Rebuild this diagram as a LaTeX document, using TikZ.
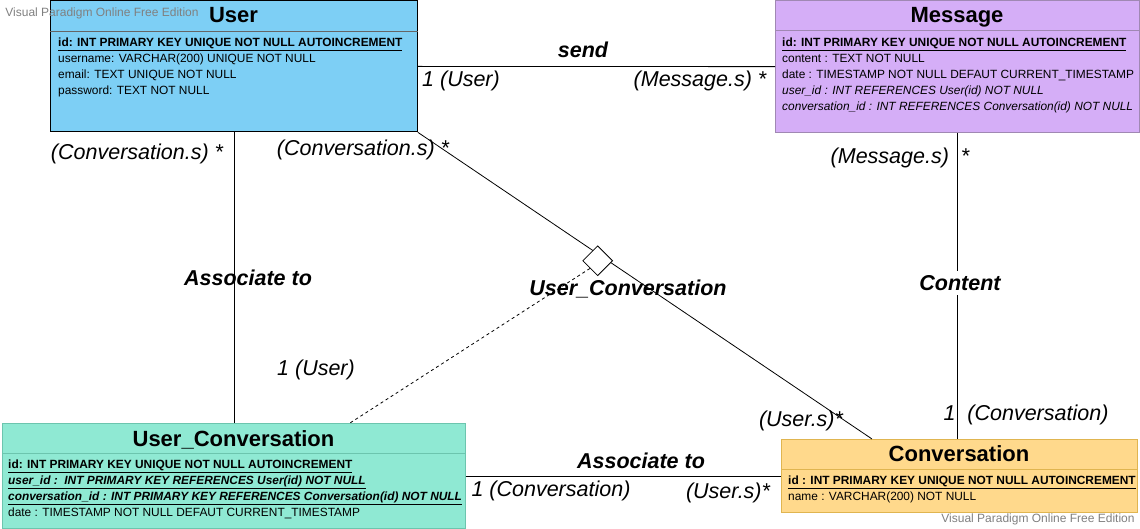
\documentclass[tikz,border=0pt]{standalone}
\usepackage{fontspec}
\setmainfont{Liberation Sans}
\usetikzlibrary{shapes.geometric}
\definecolor{usercol}{HTML}{7DCFF5}
\definecolor{msgcol}{HTML}{D5AEF7}
\definecolor{msgline}{HTML}{A088B3}
\definecolor{ucol}{HTML}{8FE9D3}
\definecolor{uline}{HTML}{6CC5AE}
\definecolor{convcol}{HTML}{FFD98C}
\definecolor{convline}{HTML}{E0B550}
\tikzset{>=latex,
  entity/.style={draw, rectangle, anchor=north west, inner sep=0pt, line width=0.8pt},
  divider/.style={line width=1pt},
  title/.style={font=\fontsize{22}{26}\selectfont\bfseries, anchor=base},
  attrs/.style={font=\fontsize{11.9}{16}\selectfont, anchor=north west, align=left, inner sep=0pt},
  card/.style={font=\fontsize{21.5}{25}\selectfont\itshape, inner sep=0pt, yshift=-2pt},
  rel/.style={font=\fontsize{21.5}{25}\selectfont\bfseries\itshape, inner sep=0pt},
  conn/.style={line width=0.8pt},
  wmark/.style={font=\fontsize{12}{14}\selectfont, text=black!50, inner sep=0pt}
}
\newcommand{\pk}[1]{\underline{\textbf{#1}}}
\begin{document}
\begin{tikzpicture}[x=1pt,y=-1pt]
  \useasboundingbox (0,0) rectangle (1140,529);
  % tables
  \node[entity, fill=usercol, minimum width=367pt, minimum height=131pt] (user) at (50,0.5) {};
  \node[entity, fill=msgcol, draw=msgline, minimum width=364pt, minimum height=131.5pt] (msg) at (775,0.5) {};
  \node[entity, fill=ucol, draw=uline, minimum width=463pt, minimum height=105pt] (uconv) at (2,423) {};
  \node[entity, fill=convcol, draw=convline, minimum width=356pt, minimum height=73pt] (conv) at (781,439) {};
  \draw[divider, draw=black!60] ([yshift=-31pt]user.north west) -- ([yshift=-31pt]user.north east);
  \draw[divider, draw=msgline] ([yshift=-30pt]msg.north west) -- ([yshift=-30pt]msg.north east);
  \draw[divider, draw=uline] ([yshift=-30pt]uconv.north west) -- ([yshift=-30pt]uconv.north east);
  \draw[divider, draw=convline] ([yshift=-30pt]conv.north west) -- ([yshift=-30pt]conv.north east);

  \node[title] (usertitle) at (233.5,23) {User};
  \node[title] (msgtitle) at (957,23) {Message};
  \node[title] (uconvtitle) at (233.5,446) {User\_Conversation};
  \node[title] (convtitle) at (959,461) {Conversation};

  \node[attrs] (userattrs) at (58,37.5) {\pk{id: INT PRIMARY KEY UNIQUE NOT NULL AUTOINCREMENT}\\
    username: VARCHAR(200) UNIQUE NOT NULL\\
    email: TEXT UNIQUE NOT NULL\\
    password: TEXT NOT NULL};
  \node[attrs] (msgattrs) at (782,37.5) {\pk{id: INT PRIMARY KEY UNIQUE NOT NULL AUTOINCREMENT}\\
    content : TEXT NOT NULL\\
    date : TIMESTAMP NOT NULL DEFAUT CURRENT\_TIMESTAMP\\
    \textit{user\_id : INT REFERENCES User(id) NOT NULL}\\
    \textit{conversation\_id : INT REFERENCES Conversation(id) NOT NULL}};
  \node[attrs] (uconvattrs) at (8,459.5) {\pk{id: INT PRIMARY KEY UNIQUE NOT NULL AUTOINCREMENT}\\
    \pk{\textit{user\_id :\ \ INT PRIMARY KEY REFERENCES User(id) NOT NULL}}\\
    \pk{\textit{conversation\_id : INT PRIMARY KEY REFERENCES Conversation(id) NOT NULL}}\\
    date : TIMESTAMP NOT NULL DEFAUT CURRENT\_TIMESTAMP};
  \node[attrs] (convattrs) at (788,475.5) {\pk{id : INT PRIMARY KEY UNIQUE NOT NULL AUTOINCREMENT}\\
    name : VARCHAR(200) NOT NULL};

  % relations
  \draw[conn] (user.east) -- (msg.west);
  \draw[conn] (user.south) -- (uconv.north);
  \draw[conn] (msg.south) -- (msg.south |- conv.north);
  \draw[conn] (uconv.east) -- (conv.west);
  \draw[conn] (user.south east) -- node[pos=0.396, yshift=-7pt, diamond, draw, fill=white, minimum width=30pt, minimum height=30pt, inner sep=0pt] (assoc) {} ([xshift=91pt]conv.north west);
  \draw[conn, dashed] (assoc.south west) -- ([xshift=348pt]uconv.north west);

  \node[rel, fill=white, anchor=base, text depth=8pt] (send) at (583,58) {send};
  \node[card] (senduser) at (461,79) {1 (User)};
  \node[card] (sendmsg) at (700,79) {(Message.s) *};
  \node[card] (ucleft) at (137,152) {(Conversation.s) *};
  \node[card] (ucmid) at (363,148) {(Conversation.s) *};
  \node[rel] (assocuser) at (248,278) {Associate to};
  \node[card] (uconvuser) at (316,368) {1 (User)};
  \node[rel] (assoclbl) at (628,289) {User\_Conversation};
  \node[card] (contentmsg) at (900,156) {(Message.s)\ \ *};
  \node[rel, fill=white, inner ysep=4pt] (content) at (960,283) {Content};
  \node[card] (contentconv) at (1026,413) {1\ \ (Conversation)};
  \node[card] (assocconv) at (801,419) {(User.s)*};
  \node[rel] (assocbottom) at (641,461) {Associate to};
  \node[card] (uconvconv) at (551,489) {1 (Conversation)};
  \node[card] (convusers) at (728,491) {(User.s)*};

  \node[wmark] (wm1) at (102,13) {Visual Paradigm Online Free Edition};
  \node[wmark] (wm2) at (1038,519) {Visual Paradigm Online Free Edition};
\end{tikzpicture}
\end{document}
